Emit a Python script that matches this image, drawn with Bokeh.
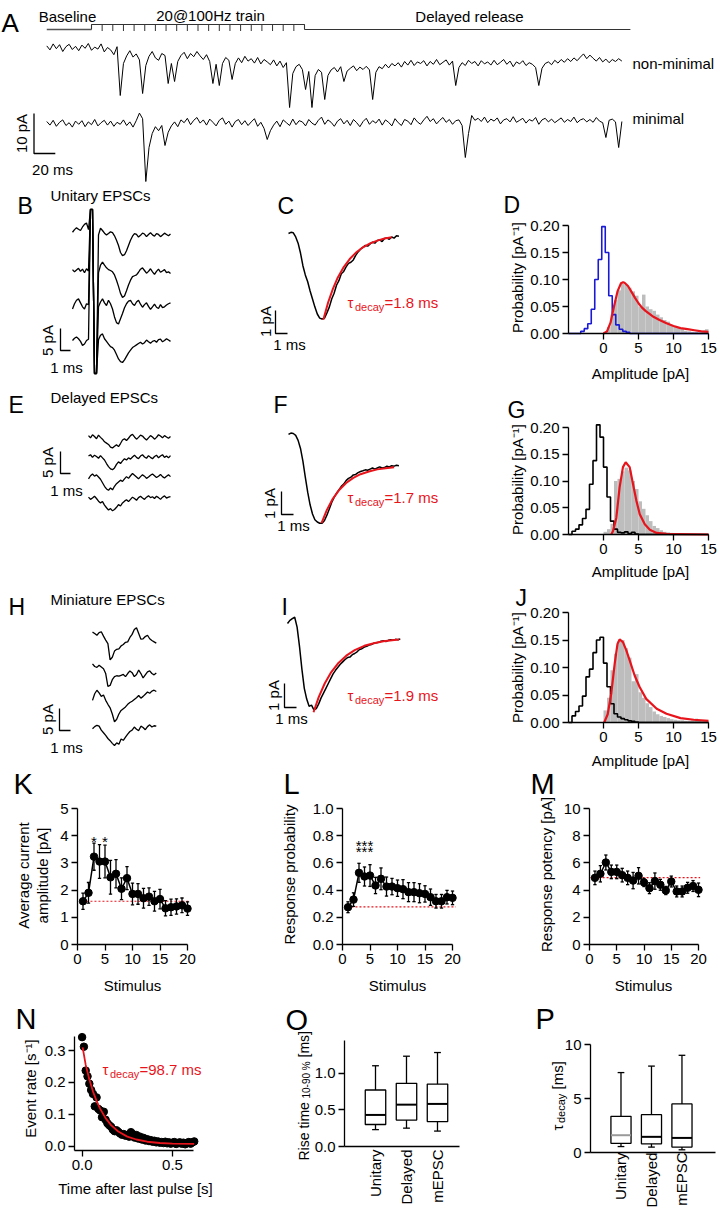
import math
from bokeh.plotting import figure
from bokeh.models import Range1d, Label, FixedTicker, PrintfTickFormatter, LinearAxis
from bokeh.embed import file_html
from bokeh.resources import INLINE

FONT = "Liberation Sans"
RED = "#e8141c"
BLUE = "#1a1ad6"
GRAY = "#bdbdbd"
HP = math.pi / 2
W, H = 717, 1212

# ======================= DATA =======================
# Panel A: sweeps (pA), sampled every 3 ms from -42 ms (t=0: first pulse)
A_T0, A_DT = -42.0, 3.0
A_nonminimal = [
    0.4, -0.6, 0.9, -0.3, 0.7, -1.0, 0.2, 0.8, -0.5, 0.3,
    -0.8, 0.6, -0.2, 1.0, -0.7, 0.1, -0.4, 0.9, -1.1, 0.0,
    -0.6, -1.8, 0.2, -12.0, -4.0, -2.1, -0.8, -2.4, -1.6, -3.1,
    -11.5, -4.5, -2.2, -1.0, -2.6, -3.2, -1.5, -2.0, -9.0, -4.0,
    -8.5, -3.5, -2.0, -1.2, -2.8, -1.5, -2.3, -1.0, -2.1, -3.0,
    -1.8, -3.5, -9.0, -4.2, -9.5, -4.0, -2.5, -3.2, -8.0, -4.0,
    -2.6, -3.8, -2.2, -3.4, -2.8, -3.9, -2.5, -4.1, -3.0, -3.6,
    -4.3, -3.1, -4.6, -3.4, -5.0, -3.8, -15.0, -6.5, -4.8, -4.2,
    -5.5, -10.5, -6.0, -15.0, -7.0, -5.5, -6.2, -13.0, -7.0, -5.6,
    -5.0, -6.1, -4.8, -8.5, -5.9, -5.2, -4.6, -5.8, -4.9, -5.5,
    -4.7, -5.6, -13.0, -6.2, -4.8, -5.3, -4.2, -5.1, -4.0, -4.6,
    -3.8, -4.9, -3.5, -4.4, -3.2, -4.5, -3.6, -4.0, -3.3, -4.6,
    -3.5, -4.2, -3.0, -4.3, -3.7, -3.1, -4.4, -3.4, -9.5, -5.0,
    -3.8, -4.5, -3.2, -4.0, -3.5, -4.6, -3.3, -4.1, -3.6, -4.4,
    -3.2, -4.3, -3.7, -3.0, -4.2, -3.4, -4.8, -3.6, -4.1, -3.3,
    -4.5, -3.8, -4.2, -5.0, -9.5, -5.2, -4.0, -3.6, -4.3, -3.2,
    -3.9, -3.0, -3.7, -2.8, -3.5, -2.6, -3.3, -2.4, -1.6, -2.8,
    -1.9, -2.7, -3.4, -2.5, -3.6, -2.9, -3.8, -3.0, -3.5, -2.8, -3.4]
A_minimal = [
    0.5, -0.4, 0.8, -0.7, 0.3, 0.9, -0.5, 0.2, -0.9, 0.6,
    -0.2, 0.7, -0.8, 0.4, -0.3, 1.0, -0.6, 0.2, 0.8, -0.4,
    0.6, -0.7, 0.3, -0.2, 0.9, -0.5, 0.4, -0.9, 0.7, 2.6,
    1.2, -14.5, -6.0, -2.5, -0.8, -1.8, -0.5, -5.5, -2.2, -0.6,
    0.4, -0.8, 0.9, 0.2, 1.3, -0.3, 0.8, 1.5, 0.1, 0.9,
    -0.4, 1.1, 0.3, -0.6, 0.8, 1.4, -0.2, 0.6, -0.9, 0.5,
    1.0, -0.3, 0.7, -0.5, 0.4, 1.2, -0.7, 0.3, -1.2, -4.0,
    -1.8, -0.4, 0.6, -0.8, 0.9, 0.2, -0.5, 1.1, -0.3, 0.7,
    0.4, -0.6, 1.0, 0.1, -0.4, 0.8, 1.6, -0.2, 0.9, 0.3,
    -0.7, 0.6, 1.2, -0.1, 0.8, -0.5, 1.0, 0.2, -0.8, 0.5,
    1.3, -0.2, 0.7, 0.1, 1.1, -0.4, 0.9, 0.3, -0.6, 1.2,
    0.2, -0.5, 1.0, 0.6, -0.3, 1.4, 0.4, -0.2, 0.9, 1.8,
    0.5, 1.2, -0.1, 0.8, 1.5, 0.3, 1.0, -0.2, 0.7, 0.9,
    -0.5, -8.5, -2.5, 2.0, 0.8, 1.3, 0.5, 1.6, 0.2, 1.1,
    0.6, 1.4, -0.1, 0.9, 1.2, 0.4, 1.7, 0.3, 0.8, 1.3,
    0.1, 1.0, 0.6, 1.5, -0.2, 0.9, 1.3, 0.4, 1.1, 0.2,
    0.8, 1.4, 0.3, 1.0, 0.5, 1.6, 0.2, 0.9, 1.2, 0.4,
    1.0, 0.3, 1.5, 0.6, 0.2, -3.5, 0.8, 1.1, 0.4, -6.0, 0.5]
A_pulses = [0, 10, 20, 30, 40, 50, 60, 70, 80, 90, 100, 110, 120, 130, 140, 150, 160, 170, 180, 190]
A_train_end = 200
A_record_end = 506
A_bar = (20, 10)           # ms, pA

# Panel B: unitary EPSCs (pA), 0.2 ms sampling
B_DT = 0.2
B_sweep1 = [-0.4, 0.2, 0.6, 0.3, 0.0, 0.8, 1.4, 1.7, 0.2, 4.8, 4.8, -32.5, -32.5, -1.0, 0.5, 0.0, -0.6, -1.0, -0.7, -0.3,
            -0.5, -1.2, -2.2, -3.4, -5.0, -5.7, -5.5, -4.6, -3.4, -2.2, -1.3, -0.7, -0.9, -1.5, -1.1, -0.6, -0.8, -1.4, -0.9, -0.5,
            -1.0, -1.3, -0.7, -0.9, -1.4, -1.0, -0.6, -0.9, -1.2, -0.8]
B_sweep2 = [0.2, -0.3, 0.1, 0.5, -0.2, 0.3, -0.5, 0.4, -0.1, 13.9, 13.9, -23.4, -23.4, -0.5, 1.2, 1.9, 1.2, 0.6, 0.2, 0.0,
            -0.3, -1.0, -2.2, -3.6, -5.2, -6.1, -5.8, -4.6, -3.3, -2.2, -1.4, -1.2, -1.0, -0.4, 0.3, 0.6, 0.0, -0.6, -0.2, 0.4,
            -0.3, -0.9, -0.2, 0.3, -0.4, -0.1, 0.2, -0.5, -0.3, -0.7]
B_sweep3 = [-0.8, 0.4, 1.2, 1.5, 0.6, -0.3, -0.8, 0.4, 0.2, 21.8, 21.8, -15.5, -15.5, -0.3, 0.8, 1.5, 0.6, 0.0, 1.2, 0.4,
            -0.8, -2.6, -3.9, -4.2, -3.0, -1.8, -0.5, 0.4, 1.0, 1.2, 0.4, 0.0, 0.8, 1.2, 0.3, -0.4, 0.2, 0.6, -0.2, -0.9,
            -0.3, 0.3, -0.4, -0.7, 0.2, -0.5, -0.3, 0.1, 0.4, 0.6]
B_sweep4 = [0.0, 0.5, 0.8, 0.4, -0.2, -1.1, -0.8, 0.0, 0.3, 29.8, 29.8, -7.5, -7.5, 0.2, 1.2, 1.5, 0.4, -0.2, -0.8, -1.4,
            -1.6, -2.2, -3.2, -4.2, -4.8, -5.0, -4.4, -3.6, -2.8, -2.2, -1.6, -1.3, -1.0, -0.7, -0.4, -0.8, -0.5, 0.1, -0.3, -0.6,
            -0.2, 0.0, -0.4, 0.2, 0.3, -0.3, 0.0, 0.4, 0.1, -0.2]
B_bar = (1, 5)

# Panel E: delayed EPSCs
E_DT = 0.2
E_sweep1 = [0.2, -0.3, 0.4, 0.0, -0.5, 0.3, -0.2, -0.6, -1.2, -1.5, -1.8, -2.4, -2.6, -2.2, -1.9, -2.3, -1.6, -0.8, -0.5, -0.9,
            -0.4, 0.2, 0.5, -0.1, -0.6, -0.2, 0.3, 0.1, -0.4, -0.8, -0.3, 0.2, -0.1, -0.6, -0.2, 0.4, 0.1, -0.3, 0.2, -0.1, -0.4, 0.0]
E_sweep2 = [0.1, 0.4, -0.2, 0.3, 0.0, -0.4, 0.2, -0.3, -0.8, -1.6, -2.3, -2.8, -3.0, -2.6, -1.8, -1.2, -1.6, -1.0, -0.5, -0.8,
            -0.3, -0.6, -0.1, 0.3, -0.2, -0.5, 0.1, 0.4, -0.1, -0.4, 0.2, -0.2, -0.5, 0.0, 0.3, -0.3, 0.1, 0.4, -0.2, 0.1, -0.3, 0.2]
E_sweep3 = [-0.3, 0.4, 0.8, 0.3, 0.6, 0.1, -0.4, -1.2, -2.0, -2.6, -2.9, -2.4, -2.8, -2.0, -1.4, -1.0, -0.6, -0.9, -0.3, 0.2,
            -0.2, 0.4, 0.9, 0.5, 0.1, -0.3, 0.2, 0.6, 0.3, -0.2, 0.1, 0.5, 0.8, 0.4, 0.0, 0.3, 0.7, 0.2, -0.1, 0.3, 0.6, 0.2]
E_sweep4 = [0.3, -0.2, 0.1, 0.5, 0.0, -0.6, -1.0, -0.7, -1.5, -2.1, -2.6, -2.3, -2.8, -2.5, -2.0, -1.4, -1.7, -1.0, -0.6, -0.3,
            -0.7, -0.2, 0.3, 0.0, -0.4, 0.2, 0.5, 0.1, -0.2, 0.3, 0.6, 0.2, 0.4, 0.0, 0.5, 0.2, -0.2, 0.3, 0.6, 0.1, 0.3, 0.4]

# Panel H: miniature EPSCs
H_DT = 0.2
H_sweep1 = [0.3, 0.0, -0.4, 0.2, 0.4, -0.6, -1.5, -2.3, -6.0, -5.4, -4.0, -3.6, -3.5, -2.8, -2.5, -2.0, -1.9, -0.9, -0.2, 0.9,
            1.3, 0.0, -1.3, -1.2, -0.7, -0.4, -1.2, -1.6, -1.9, -2.2]
H_sweep2 = [0.6, 0.0, -0.2, 0.3, -0.1, -0.5, -1.6, -4.5, -4.3, -3.0, -2.3, -2.1, -2.2, -2.0, -1.8, -2.3, -1.6, -1.0, -1.4, -2.3,
            -1.8, -0.8, -1.6, -2.6, -1.9, -1.2, -1.0, -1.6, -1.9, -1.5]
H_sweep3 = [-1.1, 0.4, 1.2, 0.6, -0.2, 0.1, -1.1, -2.0, -2.8, -4.2, -6.0, -5.4, -4.2, -3.4, -3.0, -2.6, -2.0, -1.6, -1.3, -0.9,
            -0.5, 0.0, -0.6, -0.2, 0.3, 0.8, 0.5, 1.0, 1.2, 0.9]
H_sweep4 = [-0.3, 0.2, 0.5, 0.3, -0.6, -1.2, -1.8, -2.5, -3.0, -3.6, -4.1, -3.5, -3.8, -2.6, -2.9, -2.2, -1.5, -0.9, -0.6, 0.1,
            -0.4, -0.7, 0.3, 0.0, -0.5, 0.2, 0.6, 0.1, 0.4, 0.3]

# Panels C, F, I: averaged EPSCs with exponential fits
C_DT = 0.2
C_avg = [0.0, 0.05, 0.03, -0.15, -0.42, -0.85, -1.4, -1.8, -2.1, -2.5, -2.85, -3.2, -3.5, -3.68, -3.72, -3.68, -3.45, -3.2,
         -2.85, -2.6, -2.25, -2.05, -1.75, -1.65, -1.45, -1.3, -1.25, -1.15, -0.95, -0.8, -0.68, -0.6, -0.52, -0.55, -0.45,
         -0.38, -0.42, -0.3, -0.28, -0.35, -0.22, -0.2, -0.25, -0.15, -0.2, -0.1, -0.12]
C_fit_t = [2.9, 3.3, 3.7, 4.1, 4.6, 5.1, 5.6, 6.2, 6.8, 7.4, 8.0, 8.6]
C_fit_v = [-3.75, -3.0, -2.41, -1.92, -1.46, -1.11, -0.84, -0.6, -0.43, -0.31, -0.22, -0.16]
F_DT = 0.2
F_avg = [-0.04, 0.02, 0.0, -0.08, -0.3, -0.65, -1.2, -1.9, -2.55, -3.1, -3.5, -3.75, -3.85, -3.9, -3.9, -3.78, -3.55, -3.28,
         -3.0, -2.78, -2.6, -2.45, -2.3, -2.2, -2.05, -1.95, -1.9, -1.8, -1.78, -1.7, -1.65, -1.62, -1.58, -1.6, -1.55, -1.5,
         -1.55, -1.5, -1.45, -1.5, -1.48, -1.42, -1.45, -1.4, -1.42, -1.38, -1.4]
F_fit_t = [2.75, 3.2, 3.7, 4.2, 4.8, 5.4, 6.0, 6.7, 7.4, 8.1, 8.8]
F_fit_v = [-3.9, -3.32, -2.83, -2.47, -2.15, -1.93, -1.77, -1.65, -1.56, -1.51, -1.47]
I_DT = 0.2
I_avg = [0.0, 0.13, 0.2, 0.26, -0.15, -0.95, -1.9, -2.7, -3.15, -3.45, -3.4, -3.6, -3.55, -3.35, -3.1, -2.9, -2.7, -2.5, -2.3,
         -2.1, -1.95, -1.82, -1.7, -1.6, -1.5, -1.42, -1.4, -1.3, -1.25, -1.18, -1.08, -1.05, -0.98, -0.95, -0.9, -0.88, -0.82,
         -0.8, -0.78, -0.74, -0.72, -0.75, -0.7, -0.68, -0.7, -0.66, -0.68, -0.64]
I_fit_t = [2.17, 2.6, 3.1, 3.6, 4.2, 4.9, 5.6, 6.4, 7.2, 8.0, 8.9, 9.3]
I_fit_v = [-3.7, -3.07, -2.5, -2.06, -1.67, -1.34, -1.11, -0.93, -0.82, -0.74, -0.69, -0.67]
FIT_BAR = (1, 1)
TAU_TEXT = ["=1.8 ms", "=1.7 ms", "=1.9 ms", "=98.7 ms"]

# Panels D, G, J: amplitude histograms (bin width 0.5 pA)
BIN = 0.5
D_noise_left = [-3.25, -2.75, -2.25, -1.75, -1.25, -0.75, -0.25, 0.25, 0.75, 1.25, 1.75, 2.25, 2.75, 3.25]
D_noise = [0.004, 0.009, 0.018, 0.045, 0.100, 0.137, 0.198, 0.150, 0.070, 0.035, 0.016, 0.008, 0.004, 0.002]
D_evt_left = [0.5, 1.0, 1.5, 2.0, 2.5, 3.0, 3.5, 4.0, 4.5, 5.0, 5.5, 6.0, 6.5, 7.0, 7.5, 8.0, 8.5, 9.0, 9.5, 10.0,
              10.5, 11.0, 11.5, 12.0, 12.5, 13.0, 13.5, 14.0, 14.5]
D_evt = [0.012, 0.035, 0.062, 0.080, 0.092, 0.090, 0.085, 0.078, 0.070, 0.050, 0.072, 0.050, 0.045, 0.042, 0.035, 0.030,
         0.025, 0.022, 0.015, 0.014, 0.012, 0.009, 0.005, 0.004, 0.003, 0.003, 0.002, 0.006, 0.008]
D_fit_x = [0.0, 0.5, 1.0, 1.5, 2.0, 2.5, 2.8, 3.0, 3.5, 4.0, 4.5, 5.0, 5.5, 6.0, 7.0, 8.0, 9.0, 10.0, 11.0, 12.0, 13.0, 14.0, 15.0]
D_fit_y = [0.000, 0.004, 0.020, 0.050, 0.078, 0.093, 0.095, 0.094, 0.088, 0.077, 0.066, 0.056, 0.048, 0.042, 0.032, 0.025,
           0.019, 0.014, 0.010, 0.008, 0.006, 0.004, 0.003]
G_noise_left = [-4.5, -4.0, -3.5, -3.0, -2.5, -2.0, -1.5, -1.0, -0.5, 0.0, 0.5, 1.0, 1.5, 2.0, 2.5, 3.0, 3.5, 4.0, 4.5]
G_noise = [0.006, 0.010, 0.018, 0.030, 0.047, 0.094, 0.138, 0.205, 0.182, 0.126, 0.070, 0.025, 0.010, 0.004, 0.003, 0.005,
           0.002, 0.004, 0.001]
G_evt_left = [0.0, 0.5, 1.0, 1.5, 2.0, 2.5, 3.0, 3.5, 4.0, 4.5, 5.0, 5.5, 6.0, 6.5, 7.0, 7.5, 8.0, 8.5, 9.0, 9.5, 10.0]
G_evt = [0.005, 0.010, 0.020, 0.100, 0.104, 0.118, 0.125, 0.120, 0.100, 0.085, 0.062, 0.048, 0.036, 0.025, 0.016, 0.012,
         0.008, 0.005, 0.004, 0.003, 0.002]
G_fit_x = [1.1, 1.35, 1.83, 2.3, 2.78, 3.17, 3.74, 4.22, 4.7, 5.18, 5.9, 6.62, 7.58, 9.0, 15.0]
G_fit_y = [0.0, 0.006, 0.031, 0.088, 0.126, 0.135, 0.126, 0.094, 0.063, 0.038, 0.019, 0.009, 0.003, 0.001, 0.0]
J_noise_left = [-4.5, -4.0, -3.5, -3.0, -2.5, -2.0, -1.5, -1.0, -0.5, 0.0, 0.5, 1.0, 1.5, 2.0, 2.5, 3.0, 3.5, 4.0, 4.5]
J_noise = [0.012, 0.020, 0.030, 0.048, 0.083, 0.097, 0.127, 0.150, 0.155, 0.108, 0.065, 0.034, 0.016, 0.010, 0.007, 0.005,
           0.003, 0.002, 0.001]
J_evt_left = [0.0, 0.5, 1.0, 1.5, 2.0, 2.5, 3.0, 3.5, 4.0, 4.5, 5.0, 5.5, 6.0, 6.5, 7.0, 7.5, 8.0, 8.5, 9.0, 9.5, 10.0,
              10.5, 11.0, 11.5, 12.0, 12.5, 13.0, 13.5, 14.0, 14.5]
J_evt = [0.022, 0.045, 0.095, 0.125, 0.148, 0.150, 0.135, 0.118, 0.075, 0.088, 0.055, 0.045, 0.035, 0.028, 0.020, 0.015,
         0.012, 0.010, 0.008, 0.006, 0.005, 0.004, 0.004, 0.003, 0.003, 0.004, 0.007, 0.003, 0.002, 0.002]
J_fit_x = [0.1, 0.6, 1.1, 1.6, 2.0, 2.3, 2.78, 3.26, 3.74, 4.46, 5.18, 6.1, 7.6, 9.0, 11.0, 12.9, 15.0]
J_fit_y = [0.0, 0.015, 0.052, 0.107, 0.143, 0.151, 0.146, 0.131, 0.113, 0.085, 0.064, 0.043, 0.025, 0.016, 0.008, 0.005, 0.003]

# Panels K, L, M: train responses
STIM = [1, 2, 3, 4, 5, 6, 7, 8, 9, 10, 11, 12, 13, 14, 15, 16, 17, 18, 19, 20]
K_mean = [1.59, 1.90, 3.23, 3.05, 3.05, 2.47, 2.60, 2.05, 2.44, 1.86, 1.86, 1.70, 1.76, 1.59, 1.67, 1.33, 1.37, 1.40, 1.44, 1.32]
K_err = [0.30, 0.38, 0.50, 0.62, 0.60, 0.62, 0.52, 0.40, 0.42, 0.40, 0.38, 0.36, 0.32, 0.36, 0.36, 0.28, 0.30, 0.28, 0.27, 0.25]
K_base = 1.59
K_sig = [3, 5]
L_mean = [0.274, 0.33, 0.527, 0.50, 0.507, 0.434, 0.483, 0.426, 0.426, 0.414, 0.407, 0.385, 0.385, 0.377, 0.372, 0.348,
          0.318, 0.318, 0.348, 0.343]
L_err = [0.04, 0.05, 0.07, 0.07, 0.08, 0.06, 0.08, 0.07, 0.06, 0.06, 0.07, 0.07, 0.07, 0.07, 0.06, 0.06, 0.05, 0.05, 0.05, 0.05]
L_base = 0.276
L_sig = 4
M_mean = [4.90, 5.20, 6.03, 5.34, 5.34, 5.10, 4.90, 4.70, 5.05, 4.56, 4.14, 4.66, 4.39, 3.97, 4.63, 3.90, 3.90, 4.17, 4.30, 4.02]
M_err = [0.5, 0.6, 0.55, 0.5, 0.5, 0.5, 0.5, 0.6, 0.6, 0.3, 0.4, 0.6, 0.4, 0.3, 0.4, 0.4, 0.4, 0.4, 0.4, 0.5]
M_base = 4.92

# Panel N: event rate after the train
N_time = [0.00, 0.01, 0.02, 0.03, 0.04, 0.05, 0.06, 0.07, 0.08, 0.09, 0.10, 0.11, 0.12, 0.13, 0.14, 0.15, 0.16, 0.17, 0.18,
          0.19, 0.20, 0.21, 0.22, 0.23, 0.24, 0.25, 0.26, 0.27, 0.28, 0.29, 0.30, 0.31, 0.32, 0.33, 0.34, 0.35, 0.36, 0.37,
          0.38, 0.39, 0.40, 0.41, 0.42, 0.43, 0.44, 0.45, 0.46, 0.47, 0.48, 0.49, 0.50, 0.51, 0.52, 0.53, 0.54, 0.55, 0.56,
          0.57, 0.58, 0.59, 0.60, 0.61, 0.62]
N_rate = [0.342, 0.312, 0.237, 0.219, 0.196, 0.176, 0.164, 0.125, 0.153, 0.117,
          0.112, 0.091, 0.108, 0.083, 0.072, 0.066, 0.061, 0.052, 0.047, 0.050,
          0.045, 0.040, 0.036, 0.038, 0.033, 0.035, 0.030, 0.044, 0.038, 0.027,
          0.035, 0.024, 0.030, 0.021, 0.026, 0.018, 0.022, 0.016, 0.019, 0.014,
          0.017, 0.012, 0.015, 0.011, 0.013, 0.010, 0.014, 0.009, 0.012, 0.008,
          0.011, 0.013, 0.007, 0.010, 0.012, 0.008, 0.011, 0.006, 0.010, 0.013,
          0.008, 0.012, 0.015]
N_fit_t = [0.003, 0.02, 0.04, 0.06, 0.08, 0.10, 0.13, 0.16, 0.20, 0.25, 0.30, 0.36, 0.43, 0.50, 0.62]
N_fit_v = [0.310, 0.255, 0.209, 0.172, 0.142, 0.117, 0.088, 0.066, 0.046, 0.030, 0.021, 0.014, 0.010, 0.008, 0.007]

# Panels O, P: box plots
GROUPS = ["Unitary", "Delayed", "mEPSC"]
O_low = [0.23, 0.25, 0.21]
O_q1 = [0.30, 0.36, 0.34]
O_med = [0.43, 0.57, 0.58]
O_q3 = [0.77, 0.86, 0.85]
O_high = [1.10, 1.23, 1.28]
P_low = [0.55, 0.50, 0.25]
P_q1 = [0.85, 0.80, 0.50]
P_med = [1.60, 1.45, 1.35]
P_q3 = [3.35, 3.50, 4.50]
P_high = [7.40, 8.00, 9.00]

# ======================= FIGURE (one canvas, one scale pair per panel) =======================
fig = figure(width=W, height=H, x_range=Range1d(0, W), y_range=Range1d(H, 0),
             toolbar_location=None, output_backend="svg",
             x_axis_location=None, y_axis_location=None, min_border=0)
fig.outline_line_color = None
fig.background_fill_color = "white"
fig.border_fill_color = "white"
fig.grid.visible = False
fig.xgrid.visible = False
fig.ygrid.visible = False
XR, YR = {}, {}


class Panel:
    def __init__(self, name, ax, ay, sx, sy):
        # data 0 at pixel (ax, ay); sx, sy pixels per data unit (y upward)
        self.name, self.ax, self.ay, self.sx, self.sy = name, ax, ay, sx, sy
        XR[name] = Range1d(-ax / sx, (W - ax) / sx)
        YR[name] = Range1d((ay - H) / sy, ay / sy)

    @classmethod
    def frame(cls, name, fr, xr, yr):
        fl, ft, frr, fb = fr
        sx = (frr - fl) / (xr[1] - xr[0])
        sy = (fb - ft) / (yr[1] - yr[0])
        return cls(name, fl - xr[0] * sx, fb + yr[0] * sy, sx, sy)

    def px(self, v):
        return self.ax + v * self.sx

    def X(self, p):
        return (p - self.ax) / self.sx

    def Y(self, p):
        return (self.ay - p) / self.sy

    @property
    def kw(self):
        return dict(x_range_name=self.name, y_range_name=self.name)


def lab(px, py, text, size=15, color="black", align="left", baseline="middle", angle=0.0):
    fig.add_layout(Label(x=px, y=py, text=text, text_font=FONT, text_font_size=f"{size}px",
                         text_color=color, text_align=align, text_baseline=baseline, angle=angle))


def letter(px, py, ch, size=23):
    lab(px, py, ch, size, baseline="alphabetic")


def tau_label(px, py, rest, color=RED):
    lab(px, py, "τ", 15, color, baseline="alphabetic")
    lab(px + 7.5, py + 4, "decay", 11, color, baseline="alphabetic")
    lab(px + 37, py, rest, 15, color, baseline="alphabetic")


def scalebar(P, px, py, dx, dy, lw=1.3):
    x, y = P.X(px), P.Y(py)
    fig.line([x, x, x + dx], [y + dy, y, y], line_color="black", line_width=lw, **P.kw)


def sweeps(P, traces, dt, base_px, lw=1.3):
    for vals, b in zip(traces, base_px):
        off = P.Y(b)
        fig.line([dt * i for i in range(len(vals))], [v + off for v in vals],
                 line_color="black", line_width=lw, **P.kw)


def axes(P, xb, yb, xloc, yloc, xt, yt, xfmt, yfmt):
    xa = LinearAxis(x_range_name=P.name, y_range_name=P.name, fixed_location=xloc, bounds=xb,
                    ticker=FixedTicker(ticks=xt))
    ya = LinearAxis(x_range_name=P.name, y_range_name=P.name, fixed_location=yloc, bounds=yb,
                    ticker=FixedTicker(ticks=yt))
    if xfmt:
        xa.formatter = PrintfTickFormatter(format=xfmt)
    ya.formatter = PrintfTickFormatter(format=yfmt)
    for a in (xa, ya):
        a.axis_line_color = "black"
        a.axis_line_width = 1.3
        a.major_tick_line_color = "black"
        a.major_tick_line_width = 1.3
        a.major_tick_out = 6
        a.major_tick_in = 0
        a.minor_tick_line_color = None
        a.major_label_text_font = FONT
        a.major_label_text_font_size = "15px"
        a.major_label_text_color = "black"
        a.major_label_standoff = 3
    fig.add_layout(xa, "below")
    fig.add_layout(ya, "left")


def histo(P, noise_left, noise, evt_left, evt, fx, fy, noise_color):
    fig.quad(left=evt_left, right=[e + BIN for e in evt_left], bottom=0, top=evt,
             fill_color=GRAY, line_color=None, **P.kw)
    xs = [-5.0] + list(noise_left) + [noise_left[-1] + BIN, 15.0]
    ys = [0.0] + list(noise) + [0.0, 0.0]
    fig.step(xs, ys, mode="after", line_color=noise_color, line_width=1.6, **P.kw)
    fig.line(fx, fy, line_color=RED, line_width=2.2, **P.kw)


def errplot(P, mean, err, base, x0, x1):
    fig.line([x0, x1], [base, base], line_color=RED, line_width=1.2, line_dash="2 2", **P.kw)
    lo = [m - e for m, e in zip(mean, err)]
    hi = [m + e for m, e in zip(mean, err)]
    fig.segment(STIM, lo, STIM, hi, line_color="black", line_width=1.3, **P.kw)
    fig.segment([s - 0.3 for s in STIM], hi, [s + 0.3 for s in STIM], hi, line_color="black", line_width=1.3, **P.kw)
    fig.segment([s - 0.3 for s in STIM], lo, [s + 0.3 for s in STIM], lo, line_color="black", line_width=1.3, **P.kw)
    fig.line(STIM, mean, line_color="black", line_width=1.5, **P.kw)
    fig.scatter(STIM, mean, size=7.5, marker="circle", fill_color="black", line_color="black", **P.kw)


def boxplot(P, low, q1, med, q3, high, med_colors):
    xs = [1, 2, 3]
    hw, cw = 0.33, 0.11
    fig.segment(xs, high, xs, q3, line_color="black", line_width=1.3, **P.kw)
    fig.segment(xs, low, xs, q1, line_color="black", line_width=1.3, **P.kw)
    fig.segment([x - cw for x in xs], high, [x + cw for x in xs], high, line_color="black", line_width=1.3, **P.kw)
    fig.segment([x - cw for x in xs], low, [x + cw for x in xs], low, line_color="black", line_width=1.3, **P.kw)
    fig.quad(left=[x - hw for x in xs], right=[x + hw for x in xs], bottom=q1, top=q3,
             fill_color=None, line_color="black", line_width=1.3, **P.kw)
    fig.segment([x - hw for x in xs], med, [x + hw for x in xs], med, line_color=med_colors, line_width=2, **P.kw)


# ======================= PANEL A =======================
PA = Panel("A", 91, 47, 1.065, 4.0)
tA = [A_T0 + A_DT * i for i in range(len(A_nonminimal))]
fig.line(tA, [v + PA.Y(47) for v in A_nonminimal], line_color="black", line_width=1, **PA.kw)
fig.line(tA, [v + PA.Y(123) for v in A_minimal], line_color="black", line_width=1, **PA.kw)
yl, yt, yk = PA.Y(29), PA.Y(24), PA.Y(30.5)
fig.line([A_T0, A_pulses[0]], [yl, yl], line_color="#555555", line_width=1.4, **PA.kw)
fig.line([A_pulses[0], A_pulses[0], A_train_end, A_train_end], [yl, yt, yt, yl],
         line_color="#333333", line_width=1.1, **PA.kw)
fig.segment(A_pulses[1:], [yt] * (len(A_pulses) - 1), A_pulses[1:], [yk] * (len(A_pulses) - 1),
            line_color="#333333", line_width=1, **PA.kw)
fig.line([A_train_end, A_record_end], [yl, yl], line_color="#333333", line_width=1.1, **PA.kw)
scalebar(PA, 33.5, 153, A_bar[0], A_bar[1])
lab(1, 22, "A", 26, baseline="alphabetic")
lab(67, 16, "Baseline", align="center")
lab(210, 15, "20@100Hz train", align="center")
lab(469, 16, "Delayed release", align="center")
lab(632, 63, "non-minimal")
lab(632, 118, "minimal")
lab(21, 133, "10 pA", align="center", angle=HP)
lab(52, 169, "20 ms", align="center")

# ======================= B, E, H =======================
PB = Panel("B", 72, 230, 10, 4.4)
sweeps(PB, [B_sweep1, B_sweep2, B_sweep3, B_sweep4], B_DT, [230, 270, 305, 340])
scalebar(PB, 60, 350, B_bar[0], B_bar[1])
letter(17, 205, "B")
lab(50, 195, "Unitary EPSCs")
lab(47, 340, "5 pA", align="center", angle=HP)
lab(66, 367, "1 ms", align="center")

PE = Panel("E", 88, 436, 10, 4.4)
sweeps(PE, [E_sweep1, E_sweep2, E_sweep3, E_sweep4], E_DT, [436, 456, 477, 498])
scalebar(PE, 60, 473, B_bar[0], B_bar[1])
letter(8, 404, "E")
lab(50, 397, "Delayed EPSCs")
lab(47, 462, "5 pA", align="center", angle=HP)
lab(66, 490, "1 ms", align="center")

PH = Panel("H", 92, 633, 11, 4.4)
sweeps(PH, [H_sweep1, H_sweep2, H_sweep3, H_sweep4], H_DT, [633, 666, 695, 727])
scalebar(PH, 59, 730, B_bar[0], B_bar[1])
letter(8, 606, "H")
lab(50, 599, "Miniature EPSCs")
lab(47, 719, "5 pA", align="center", angle=HP)
lab(66, 747, "1 ms", align="center")

# ======================= C, F, I =======================
for name, ax, ay, sy, avg, dt, ft, fv, bar_xy, let_xy, tau_y, pa_xy, ms_xy, tau_txt in [
        ("C", 288, 233, 23, C_avg, C_DT, C_fit_t, C_fit_v, (275, 333), (277, 205), 302, (265, 321), (289, 344), TAU_TEXT[0]),
        ("F", 288, 433, 23, F_avg, F_DT, F_fit_t, F_fit_v, (281, 514), (273, 404), 497, (269, 503), (293, 525), TAU_TEXT[1]),
        ("I", 287, 623, 24, I_avg, I_DT, I_fit_t, I_fit_v, (284, 707), (281, 606), 695, (273, 695), (291, 718), TAU_TEXT[2])]:
    P = Panel(name, ax, ay, 12, sy)
    fig.line([dt * i for i in range(len(avg))], avg, line_color="black", line_width=1.5, **P.kw)
    fig.line(ft, fv, line_color=RED, line_width=2, **P.kw)
    scalebar(P, bar_xy[0], bar_xy[1], FIT_BAR[0], FIT_BAR[1])
    letter(let_xy[0], let_xy[1], name)
    tau_label(347, tau_y, tau_txt)
    lab(pa_xy[0], pa_xy[1], "1 pA", align="center", angle=HP)
    lab(ms_xy[0], ms_xy[1], "1 ms", align="center")

# ======================= D, G, J =======================
for name, fr, nl, nv, el, ev, fx, fy, col, let_xy, ylab_y, xlab_y in [
        ("D", (568, 225, 708, 333), D_noise_left, D_noise, D_evt_left, D_evt, D_fit_x, D_fit_y, BLUE, (503, 204), 277, 373),
        ("G", (568, 427, 708, 534), G_noise_left, G_noise, G_evt_left, G_evt, G_fit_x, G_fit_y, "black", (507, 409), 479, 571),
        ("J", (568, 612, 708, 722), J_noise_left, J_noise, J_evt_left, J_evt, J_fit_x, J_fit_y, "black", (515, 597), 667, 760)]:
    P = Panel.frame(name, fr, (-5, 15), (0, 0.2))
    histo(P, nl, nv, el, ev, fx, fy, col)
    axes(P, (-5, 15), (0, 0.2), 0, -5, [0, 5, 10, 15], [0, 0.05, 0.10, 0.15, 0.20], "%d", "%.2f")
    letter(let_xy[0], let_xy[1], name)
    lab(517, ylab_y, "Probability [pA⁻¹]", align="center", angle=HP)
    lab(640, xlab_y, "Amplitude [pA]", align="center")

# ======================= K, L, M =======================
PK = Panel.frame("K", (77, 808, 187, 944), (0, 20), (0, 5))
errplot(PK, K_mean, K_err, K_base, 0.9, 20.5)
axes(PK, (0, 20), (0, 5), 0, 0, [0, 5, 10, 15, 20], [0, 1, 2, 3, 4, 5], "%d", "%d")
for s in K_sig:
    lab(PK.px(s), 841, "*", 15, align="center", baseline="alphabetic")
letter(13, 783, "K", 29)
lab(23, 875, "Average current", align="center", angle=HP)
lab(42, 875, "amplitude [pA]", align="center", angle=HP)
lab(132, 985, "Stimulus", align="center")

PL = Panel.frame("L", (342, 808, 452, 944), (0, 20), (0, 1))
errplot(PL, L_mean, L_err, L_base, 0.9, 20.6)
axes(PL, (0, 20), (0, 1), 0, 0, [0, 5, 10, 15, 20], [0, 0.2, 0.4, 0.6, 0.8, 1.0], "%d", "%.1f")
lab(PL.px(L_sig), 845, "***", 15, align="center", baseline="alphabetic")
lab(PL.px(L_sig), 851, "***", 15, align="center", baseline="alphabetic")
letter(283, 783, "L", 29)
lab(289, 874, "Response probability", align="center", angle=HP)
lab(397, 985, "Stimulus", align="center")

PM = Panel.frame("M", (589, 808, 698, 944), (0, 20), (0, 10))
errplot(PM, M_mean, M_err, M_base, 0.2, 20.3)
axes(PM, (0, 20), (0, 10), 0, 0, [0, 5, 10, 15, 20], [0, 2, 4, 6, 8, 10], "%d", "%d")
letter(530, 783, "M", 29)
lab(546, 874, "Response potency [pA]", align="center", angle=HP)
lab(643, 985, "Stimulus", align="center")

# ======================= N =======================
PN = Panel.frame("N", (74, 1036, 193, 1150), (-0.042, 0.616), (-0.0135, 0.344))
fig.scatter(N_time, N_rate, size=7.5, marker="circle", fill_color="black", line_color="black", **PN.kw)
fig.line(N_fit_t, N_fit_v, line_color=RED, line_width=1.8, **PN.kw)
axes(PN, (-0.042, 0.616), (-0.0135, 0.344), -0.0135, -0.042, [0, 0.5], [0, 0.1, 0.2, 0.3], "%.1f", "%.1f")
tau_label(102, 1069, TAU_TEXT[3])
letter(15, 1018, "N", 29)
lab(30, 1088, "Event rate [s⁻¹]", align="center", angle=HP)
lab(135, 1188, "Time after last pulse [s]", align="center")

# ======================= O, P =======================
PO = Panel.frame("O", (344, 1040, 459, 1146), (0, 3.71), (0, 1.444))
boxplot(PO, O_low, O_q1, O_med, O_q3, O_high, ["black", "black", "black"])
axes(PO, (0, 3.71), (0, 1.444), 0, 0, [], [0, 0.5, 1.0], None, "%.1f")
for i, g in enumerate(GROUPS):
    lab(PO.px(i + 1), 1149, g, align="right", angle=HP)
letter(285, 1019, "O", 29)
lab(303, 1160, "Rise time", 14, baseline="alphabetic", angle=HP)
lab(306, 1098, "10-90 %", 10, baseline="alphabetic", angle=HP)
lab(303, 1057, "[ms]", 14, baseline="alphabetic", angle=HP)

PP = Panel.frame("P", (590, 1044, 715, 1152), (0, 4.1), (0, 10))
boxplot(PP, P_low, P_q1, P_med, P_q3, P_high, ["#9a9a9a", "black", "black"])
axes(PP, (0, 4.1), (0, 10), 0, 0, [], [0, 5, 10], None, "%d")
for i, g in enumerate(GROUPS):
    lab(PP.px(i + 1), 1152, g, align="right", angle=HP)
letter(535, 1018, "P", 29)
lab(557, 1130, "τ", baseline="alphabetic", angle=HP)
lab(560.5, 1122.5, "decay", 11, baseline="alphabetic", angle=HP)
lab(557, 1089, "[ms]", baseline="alphabetic", angle=HP)

fig.extra_x_ranges = XR
fig.extra_y_ranges = YR

open("out.html", "w").write(file_html(fig, INLINE))
